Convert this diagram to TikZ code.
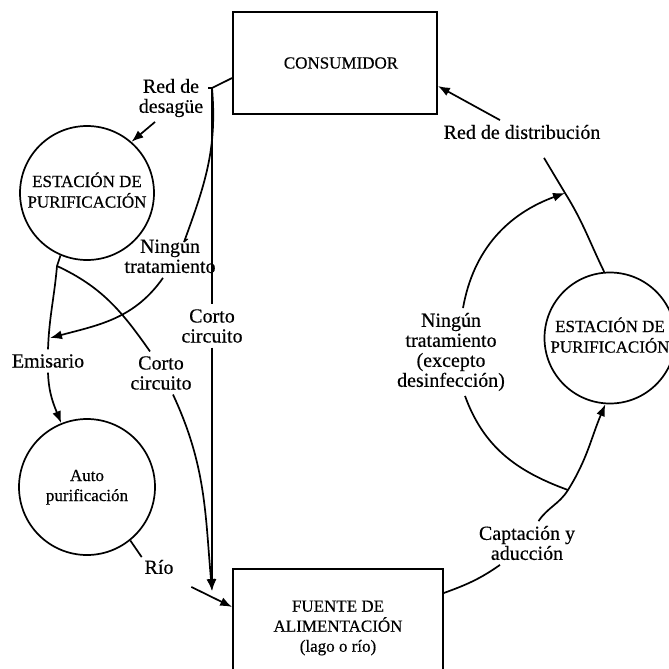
\documentclass[tikz,border=0pt]{standalone}
\usepackage{fontspec}
\setmainfont{Liberation Serif}[FakeBold=0.4]
\usetikzlibrary{arrows.meta,calc}

\begin{document}
\begin{tikzpicture}[x=0.5pt,y=0.5pt,line width=0.85pt,
  >={Latex[length=6pt,width=4.5pt]},
  caja/.style={draw, rectangle, inner sep=0pt, align=center, font=\fontsize{8.5}{10}\selectfont},
  circulo/.style={draw, circle, inner sep=0pt, font=\fontsize{8.5}{10}\selectfont},
  etiqueta/.style={inner sep=2pt, align=center, font=\fontsize{10}{10}\selectfont}]
\path[use as bounding box, fill=white] (0,0) rectangle (669,-669);

% cajas
\node[caja, minimum width=102pt, minimum height=51pt] (consumidor) at (335,-63) {\hspace*{6pt}CONSUMIDOR};
\node[caja, minimum width=105pt, minimum height=59pt] (fuente) at (338,-628) {FUENTE DE\\ALIMENTACIÓN\\(lago o río)};

% circulos
\node[circulo, minimum size=67pt] (est1) at (87,-193) {\raisebox{4.5pt}{\begin{tabular}{@{}c@{}}ESTACIÓN DE\\PURIFICACIÓN\end{tabular}}};
\node[circulo, minimum size=68pt] (auto) at (87,-487) {\raisebox{1pt}{\begin{tabular}{@{}c@{}}Auto\\purificación\end{tabular}}};
\node[circulo, minimum size=65.5pt] (est2) at (610,-338) {\raisebox{4pt}{\begin{tabular}{@{}c@{}}ESTACIÓN DE\\PURIFICACIÓN\end{tabular}}};

% etiquetas
\node[etiqueta] (desague) at (171,-98) {Red de\\desagüe};
\node[etiqueta] (ning1) at (170,-256) {Ningún\\tratamiento};
\node[etiqueta] (corto1) at (212,-326) {Corto\\circuito};
\node[etiqueta] (emis) at (48,-361) {Emisario};
\node[etiqueta] (corto2) at (161,-373) {Corto\\circuito};
\node[etiqueta] (rio) at (159,-567) {Río};
\node[etiqueta] (capt) at (527,-543) {Captación y\\aducción};
\node[etiqueta] (ning2) at (451,-352) {Ningún\\tratamiento\\(excepto\\desinfección)};
\node[etiqueta] (dist) at (522,-132) {Red de distribución};

% puntos de union
\coordinate (jn) at (212,-88);
\coordinate (jn2) at (568,-490);
\coordinate (jn3) at (565,-193);
\coordinate (jn4) at (57,-266);
\coordinate (emisor) at (50,-338);
\coordinate (llegada) at (212,-591);

% lado izquierdo
\draw ([yshift=-7.5pt]consumidor.west) -- (jn);
\draw (jn) -- ([yshift=5pt]desague.east);
\draw[->] ([xshift=-8pt]desague.south) -- (est1.49);
\draw (jn) to[out=-85,in=70] ([xshift=7pt,yshift=-4pt]ning1.north);
\draw[->] ([xshift=-3.5pt]ning1.south) to[out=-125,in=15] (emisor);
\draw (jn) -- (corto1.north);
\draw[->] (corto1.south) -- (llegada);
\draw (est1.-113) -- (jn4) to[out=-95,in=88] (emis.north);
\draw[->] (emis.south) to[out=-88,in=112] (auto.112);
\draw (jn4) to[out=-25,in=125] ([xshift=-5.5pt]corto2.north);
\draw[->] ([xshift=6pt]corto2.south) to[out=-65,in=95] (llegada);
\draw (auto.-51) -- ([xshift=1pt,yshift=-1pt]rio.north west);
\draw[->] ([shift={(6.5pt,-4pt)}]rio.south east) -- ([yshift=10.5pt]fuente.west);

% lado derecho
\draw ([yshift=17.5pt]fuente.east) to[out=20,in=-145] ([xshift=-13.5pt]capt.south);
\draw[->] ([xshift=5.75pt]capt.north) to[out=56,in=-122] (jn2) to[out=58,in=-113] (est2.-94);
\draw (jn2) to[out=160,in=-70] ([xshift=7pt]ning2.south);
\draw[->] ([xshift=6pt]ning2.north) to[out=80,in=-160] (jn3);
\draw (est2.95) to[out=116,in=-58] (jn3) -- ([xshift=11pt,yshift=-7pt]dist.south);
\draw[->] ([xshift=-11pt]dist.north) -- ([yshift=-11.5pt]consumidor.east);
\end{tikzpicture}
\end{document}
